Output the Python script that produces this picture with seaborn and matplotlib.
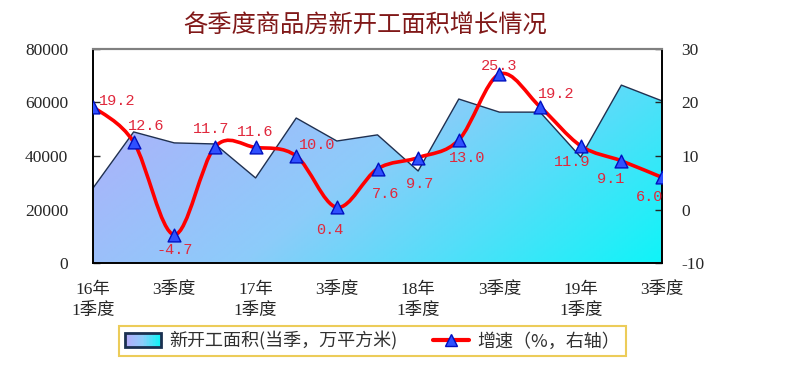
import numpy as np
import matplotlib
matplotlib.use("Agg")
import matplotlib.pyplot as plt
import seaborn as sns
from matplotlib.path import Path
from matplotlib.patches import PathPatch, Rectangle, Patch
from matplotlib.lines import Line2D
from matplotlib.colors import LinearSegmentedColormap
from matplotlib.legend_handler import HandlerBase

# DONNEES

tick_labels = ["16年\n1季度", "", "3季度", "", "17年\n1季度", "", "3季度", "",
               "18年\n1季度", "", "3季度", "", "19年\n1季度", "", "3季度"]
# new starts this quarter (10k m2)
area = [28000, 49000, 44900, 44500, 31800, 54200, 45600, 47900,
        34400, 61300, 56400, 56400, 39600, 66500, 60600]
# growth rate, %, right axis
growth = [19.2, 12.6, -4.7, 11.7, 11.6, 10.0, 0.4, 7.6,
          9.7, 13.0, 25.3, 19.2, 11.9, 9.1, 6.0]

# label offsets (points) and alignment for each data label
lab_off = [(4, 4), (9, 11.5), (0, -11), (-3, 13), (0, 11), (2, 8), (-5, -16), (6, -18),
           (1, -19), (6, -13), (0, 6), (-1.5, 9), (-6, -11.5), (-8, -13), (-9, -14)]
lab_ha = ["left", "center", "center", "center", "center", "left", "center", "center",
          "center", "center", "center", "left", "center", "center", "center"]

sns.set_style("white")
plt.rcParams["font.family"] = ["Liberation Serif", "Noto Sans CJK SC", "DejaVu Sans"]
plt.rcParams["axes.unicode_minus"] = False

x = np.arange(len(area))
grad = LinearSegmentedColormap.from_list("g", ["#B6AAFA", "#8CCCFA", "#10F4F8"])

fig = plt.figure(figsize=(8.08, 3.72), dpi=100)
ax = fig.add_axes([93 / 808, 109 / 372, 569 / 808, 214 / 372])

# aire avec degrade (violet a gauche -> cyan en bas a droite)
poly = ax.fill_between(x, 0, area, facecolor="none", edgecolor="none")
gx, gy = np.meshgrid(np.linspace(0, 1, 200), np.linspace(0, 1, 200))
t = 0.68 * gx + 0.32 * gy
img = ax.imshow(grad(t), extent=[0, 14, 0, 80000], origin="upper",
                aspect="auto", zorder=1)
img.set_clip_path(poly.get_paths()[0], transform=ax.transData)
sns.lineplot(x=x, y=area, ax=ax, color="#203050", lw=1, zorder=2)

ax.set_xlim(0, 14)
ax.set_ylim(0, 80000)
ax.set_yticks([0, 20000, 40000, 60000, 80000])
ax.set_xticks(x)
ax.set_xticklabels(tick_labels, linespacing=1.35)
ax.tick_params(axis="both", direction="in", length=5, width=1, labelsize=12.5)
ax.tick_params(axis="x", pad=14)
ax.tick_params(axis="y", pad=18)

# axe droit : croissance
ax2 = ax.twinx()
ax2.set_ylim(-10, 30)
ax2.set_yticks([-10, 0, 10, 20, 30])
ax2.tick_params(axis="y", direction="in", length=5, width=1, labelsize=12.5, pad=14)


def smooth_path(xs, ys):
    pts = np.column_stack([xs, ys]).astype(float)
    p = np.vstack([pts[0], pts, pts[-1]])
    verts = [tuple(pts[0])]
    codes = [Path.MOVETO]
    for i in range(1, len(p) - 2):
        c1 = p[i] + (p[i + 1] - p[i - 1]) / 6
        c2 = p[i + 1] - (p[i + 2] - p[i]) / 6
        verts += [tuple(c1), tuple(c2), tuple(p[i + 1])]
        codes += [Path.CURVE4] * 3
    return Path(verts, codes)


ax2.add_patch(PathPatch(smooth_path(x, growth), facecolor="none",
                        edgecolor="#FF0000", lw=2.6, zorder=3,
                        capstyle="round", joinstyle="round"))
sns.scatterplot(x=x, y=growth, ax=ax2, marker="^", s=85, color="#2F50FF",
                edgecolor="#0010C0", linewidth=1, zorder=4)

for i, v in enumerate(growth):
    ax2.annotate(f"{v:.1f}", (x[i], v), xytext=lab_off[i], textcoords="offset points",
                 ha=lab_ha[i], va="center", fontsize=11, color="#E0283C",
                 family="Liberation Mono", zorder=5)

for a in (ax, ax2):
    for s in ("left", "bottom", "right"):
        a.spines[s].set_color("black")
        a.spines[s].set_linewidth(1.2)
    a.spines["top"].set_color("#808080")
    a.spines["top"].set_linewidth(1.5)

fig.text(0.452, 0.93, "各季度商品房新开工面积增长情况", ha="center", va="center",
         fontsize=17.5, color="#801818", family=["Noto Sans CJK SC"])


class GradHandler(HandlerBase):
    def create_artists(self, legend, orig_handle, xdescent, ydescent,
                       width, height, fontsize, trans):
        n = 24
        arts = []
        for i in range(n):
            r = Rectangle((-xdescent + i * width / n, -ydescent), width / n + 0.2, height,
                          facecolor=grad(i / (n - 1)), edgecolor="none", transform=trans)
            arts.append(r)
        arts.append(Rectangle((-xdescent, -ydescent), width, height, facecolor="none",
                              edgecolor="#1A3050", lw=2, transform=trans))
        return arts


h_area = Patch()
h_line = Line2D([], [], color="#FF0000", lw=3, marker="^", markersize=9,
                markerfacecolor="#2F50FF", markeredgecolor="#0010C0")
leg = fig.legend([h_area, h_line], ["新开工面积(当季，万平方米)", "增速（%，右轴）"],
                 handler_map={h_area: GradHandler()}, loc="center",
                 bbox_to_anchor=(0.461, 0.083), ncol=2, frameon=True, fancybox=False,
                 edgecolor="#E8C030", handlelength=2.0, handleheight=0.8,
                 handletextpad=0.45, columnspacing=2.0, borderpad=0.3,
                 prop={"family": ["Noto Sans CJK SC"], "size": 13})
leg.get_frame().set_linewidth(1.5)
for tx in leg.get_texts():
    tx.set_color("#303030")

fig.savefig("out.png", dpi=100, facecolor="white")
